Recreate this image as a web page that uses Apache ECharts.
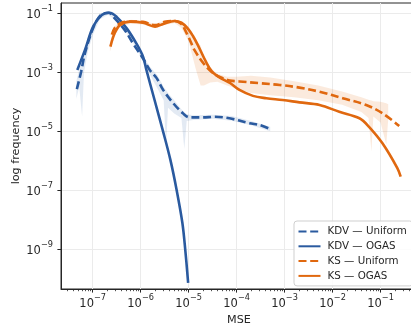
<!DOCTYPE html>
<html><head><meta charset="utf-8">
<script src="https://cdn.jsdelivr.net/npm/echarts@6/dist/echarts.min.js"></script>
<style>html,body{margin:0;padding:0;background:#fff}#c{width:411px;height:324px}</style>
</head><body><div id="c"></div>
<script>
// All values are log10 exponents: [log10(MSE), log10(frequency)]
const xTickExponents = [-7, -6, -5, -4, -3, -2, -1];
const yTickExponents = [-1, -3, -5, -7, -9];
const seriesNames = ['KDV — Uniform', 'KDV — OGAS', 'KS — Uniform', 'KS — OGAS'];

const kdvUniform = [[-7.33,-3.57],[-7.24,-2.98],[-7.16,-2.35],[-6.99,-1.50],[-6.83,-1.06],[-6.67,-0.98],[-6.54,-1.17],[-6.33,-1.57],[-6.16,-2.02],[-5.95,-2.53],[-5.81,-2.92],[-5.67,-3.19],[-5.53,-3.60],[-5.32,-4.05],[-5.12,-4.39],[-4.98,-4.53],[-4.70,-4.53],[-4.46,-4.51],[-4.15,-4.56],[-3.73,-4.73],[-3.52,-4.79],[-3.31,-4.92]];
const kdvOgas = [[-7.32,-2.92],[-7.16,-2.24],[-6.99,-1.45],[-6.81,-1.06],[-6.65,-0.98],[-6.50,-1.12],[-6.29,-1.51],[-6.09,-2.02],[-5.95,-2.47],[-5.88,-2.92],[-5.71,-3.94],[-5.54,-4.96],[-5.38,-5.97],[-5.25,-6.99],[-5.13,-8.11],[-5.07,-9.02],[-5.01,-10.14]];
const ksUniform = [[-6.60,-1.72],[-6.54,-1.50],[-6.43,-1.34],[-6.22,-1.28],[-5.95,-1.29],[-5.70,-1.40],[-5.50,-1.29],[-5.29,-1.26],[-5.12,-1.40],[-5.09,-1.51],[-4.98,-1.88],[-4.88,-2.24],[-4.68,-2.72],[-4.52,-2.99],[-4.35,-3.16],[-4.14,-3.28],[-3.94,-3.31],[-3.52,-3.37],[-3.10,-3.43],[-2.69,-3.52],[-2.27,-3.66],[-1.79,-3.88],[-1.30,-4.11],[-0.96,-4.39],[-0.61,-4.82]];
const ksOgas = [[-6.63,-2.13],[-6.54,-1.67],[-6.43,-1.40],[-6.22,-1.28],[-5.95,-1.32],[-5.70,-1.45],[-5.53,-1.36],[-5.29,-1.26],[-5.15,-1.32],[-5.02,-1.51],[-4.91,-1.77],[-4.81,-2.07],[-4.64,-2.64],[-4.52,-2.96],[-4.35,-3.18],[-4.14,-3.36],[-3.94,-3.60],[-3.66,-3.80],[-3.38,-3.88],[-3.04,-3.94],[-2.69,-4.02],[-2.27,-4.11],[-1.86,-4.34],[-1.44,-4.56],[-1.24,-4.85],[-0.96,-5.41],[-0.65,-6.25],[-0.58,-6.54]];
// shaded spread bands: [log10(MSE), low, high]
const kdvBand = [[-7.34,-3.9,-3.3],[-7.28,-3.5,-2.9],[-7.22,-4.5,-2.6],[-7.18,-3.0,-2.3],[-7.1,-2.3,-1.95],[-7.0,-1.75,-1.38],[-6.85,-1.2,-1.0],[-6.68,-1.05,-0.93],[-6.5,-1.25,-1.08],[-6.3,-1.65,-1.45],[-6.1,-2.15,-1.95],[-5.95,-2.65,-2.45],[-5.8,-3.1,-2.82],[-5.65,-3.55,-3.1],[-5.52,-3.95,-3.5],[-5.47,-5.5,-3.6],[-5.43,-4.2,-3.7],[-5.3,-4.4,-3.95],[-5.15,-4.55,-4.25],[-5.09,-5.6,-4.35],[-5.04,-4.65,-4.42],[-4.9,-4.62,-4.46],[-4.5,-4.58,-4.44],[-4.1,-4.64,-4.48],[-3.7,-4.8,-4.65],[-3.3,-5.0,-4.85]];
const ksBand = [[-6.64,-2.3,-2.0],[-6.55,-1.8,-1.45],[-6.43,-1.45,-1.3],[-6.2,-1.35,-1.22],[-5.95,-1.38,-1.25],[-5.7,-1.5,-1.36],[-5.5,-1.4,-1.25],[-5.29,-1.33,-1.2],[-5.15,-1.5,-1.28],[-5.0,-1.95,-1.45],[-4.85,-2.9,-1.9],[-4.75,-3.45,-2.1],[-4.68,-3.45,-2.45],[-4.55,-3.35,-2.85],[-4.4,-3.32,-3.05],[-4.2,-3.45,-3.15],[-4.0,-3.55,-3.15],[-3.7,-3.7,-3.12],[-3.3,-3.78,-3.18],[-2.8,-3.85,-3.3],[-2.3,-3.95,-3.45],[-1.8,-4.1,-3.65],[-1.4,-4.35,-3.85],[-1.25,-4.55,-3.93],[-1.19,-5.69,-3.96],[-1.15,-4.5,-3.98],[-1.0,-4.7,-4.0],[-0.88,-5.45,-4.05],[-0.84,-4.6,-4.08]];

const X_MIN = -7.66, X_MAX = -0.24, Y_MIN = -10.35, Y_MAX = -0.65;
const BLUE = '#2a5a9f', ORANGE = '#e0680f';
const FONT = 'DejaVu Sans', INK = '#262626';

const xMinor = [];
for (let n = -8; n <= -1; n++) for (let k = 2; k <= 9; k++) {
  const v = n + Math.log10(k);
  if (v > X_MIN && v < X_MAX) xMinor.push(v);
}
const rich = {
  b: {fontFamily: FONT, fontSize: 11.5, color: INK, lineHeight: 16, verticalAlign: 'bottom'},
  s: {fontFamily: FONT, fontSize: 8.2, color: INK, lineHeight: 10, verticalAlign: 'top'}
};
const fmt = v => '{b|10}{s|\u2212' + Math.round(Math.abs(v)) + '}';

function bandRender(band, color) {
  return function (params, api) {
    if (params.dataIndex !== 0) return null;
    const top = band.map(p => api.coord([p[0], p[2]]));
    const bot = band.slice().reverse().map(p => api.coord([p[0], p[1]]));
    return {type: 'polygon', shape: {points: top.concat(bot)}, style: {fill: color}, silent: true};
  };
}
function lineSeries(name, data, color, dashed, z) {
  return {type: 'line', name, data, symbol: 'none', showSymbol: false, smooth: 0.35, clip: true, z,
    lineStyle: {color, width: 2.6, type: dashed ? [8, 3.7] : 'solid', cap: 'butt'},
    itemStyle: {color}, emphasis: {disabled: true}};
}

const chart = echarts.init(document.getElementById('c'), null, {renderer: 'canvas'});
chart.setOption({
  animation: false,
  grid: {left: 61, top: 3, right: -6, bottom: 35, show: true, borderColor: INK, borderWidth: 1,
    containLabel: false, outerBoundsMode: 'none'},
  xAxis: [{
    type: 'value', min: X_MIN, max: X_MAX, position: 'bottom',
    axisLine: {show: true, lineStyle: {color: INK, width: 1}},
    axisTick: {show: true, customValues: xTickExponents, length: 3.6, lineStyle: {color: INK}},
    axisLabel: {customValues: xTickExponents, formatter: fmt, rich, margin: 5, color: INK},
    splitLine: {show: true, lineStyle: {color: '#ebebeb', width: 1}},
    name: 'MSE', nameLocation: 'middle', nameGap: 24,
    nameTextStyle: {fontFamily: FONT, fontSize: 11.2, color: INK}
  }, {
    type: 'value', min: X_MIN, max: X_MAX, position: 'bottom', gridIndex: 0,
    axisLine: {show: false},
    axisTick: {show: true, customValues: xMinor, length: 2.2, lineStyle: {color: INK, width: 0.8}},
    axisLabel: {show: false}, splitLine: {show: false}
  }],
  yAxis: {
    type: 'value', min: Y_MIN, max: Y_MAX,
    axisLine: {show: true, lineStyle: {color: INK, width: 1}},
    axisTick: {show: true, customValues: yTickExponents, length: 3.6, lineStyle: {color: INK}},
    axisLabel: {customValues: yTickExponents, formatter: fmt, rich, margin: 8, color: INK},
    splitLine: {show: true, lineStyle: {color: '#ebebeb', width: 1}},
    name: 'log frequency', nameLocation: 'middle', nameGap: 39, nameMoveOverlap: false,
    nameTextStyle: {fontFamily: FONT, fontSize: 11.2, color: INK}
  },
  legend: {
    orient: 'vertical', left: 294, top: 221, itemWidth: 22, itemHeight: 12, itemGap: 2.8,
    padding: [4.5, 6, 4, 3.5], backgroundColor: 'rgba(255,255,255,0.85)',
    borderColor: '#cfcfcf', borderWidth: 1, borderRadius: 3,
    itemStyle: {color: 'rgba(0,0,0,0)', borderWidth: 0, opacity: 0},
    textStyle: {fontFamily: FONT, fontSize: 10.3, color: INK, lineHeight: 12, padding: [0, 0, 0, 2]},
    data: seriesNames
  },
  series: [
    {type: 'custom', name: 'kdv band', data: kdvBand, renderItem: bandRender(kdvBand, 'rgba(42,90,159,0.13)'), encode: {x: 0, y: [1, 2]}, clip: true, silent: true, z: 1},
    {type: 'custom', name: 'ks band', data: ksBand, renderItem: bandRender(ksBand, 'rgba(224,104,15,0.14)'), encode: {x: 0, y: [1, 2]}, clip: true, silent: true, z: 1},
    lineSeries(seriesNames[0], kdvUniform, BLUE, true, 3),
    lineSeries(seriesNames[1], kdvOgas, BLUE, false, 3),
    lineSeries(seriesNames[2], ksUniform, ORANGE, true, 3),
    lineSeries(seriesNames[3], ksOgas, ORANGE, false, 3)
  ]
});
</script></body></html>
